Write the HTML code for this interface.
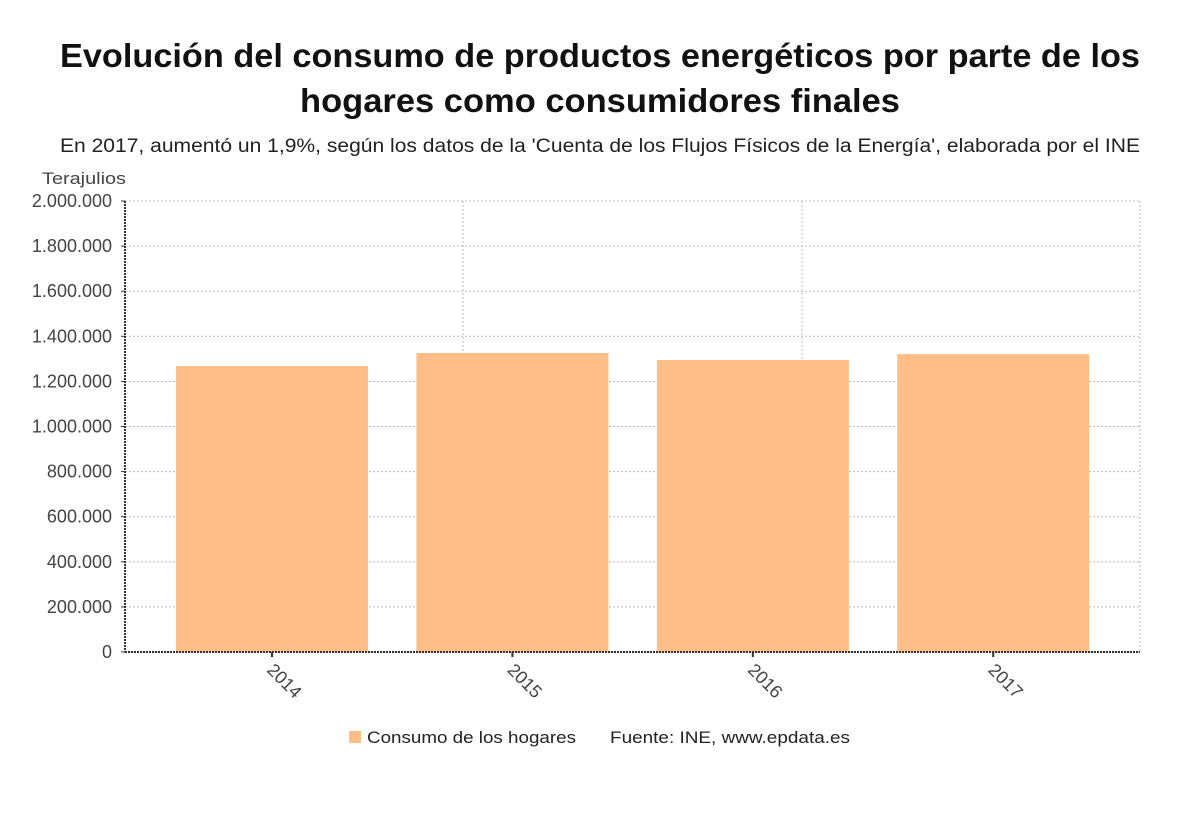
<!DOCTYPE html>
<html><head><meta charset="utf-8"><style>
body{margin:0;background:#fff;width:1200px;height:809px;overflow:hidden;font-family:"Liberation Sans","DejaVu Sans",sans-serif}
</style></head><body>
<svg id="chart" width="1200" height="809" xmlns="http://www.w3.org/2000/svg" font-family="Liberation Sans, DejaVu Sans, sans-serif">
<text x="600" y="67" text-anchor="middle" font-size="33" font-weight="bold" fill="#111" textLength="1080" lengthAdjust="spacingAndGlyphs">Evolución del consumo de productos energéticos por parte de los</text>
<text x="600" y="112" text-anchor="middle" font-size="33" font-weight="bold" fill="#111" textLength="600" lengthAdjust="spacingAndGlyphs">hogares como consumidores finales</text>
<text x="600" y="152" text-anchor="middle" font-size="19" fill="#222" textLength="1080" lengthAdjust="spacingAndGlyphs">En 2017, aumentó un 1,9%, según los datos de la 'Cuenta de los Flujos Físicos de la Energía', elaborada por el INE</text>
<text x="42" y="184" font-size="17" fill="#444" textLength="84" lengthAdjust="spacingAndGlyphs">Terajulios</text>
<g id="grid"></g><g id="bars"></g><g id="axes"></g>
<rect x="349" y="731" width="12" height="12" fill="#ffbe87"/>
<text x="367" y="743" font-size="17" fill="#222" textLength="209" lengthAdjust="spacingAndGlyphs">Consumo de los hogares</text>
<text x="610" y="743" font-size="17" fill="#222" textLength="240" lengthAdjust="spacingAndGlyphs">Fuente: INE, www.epdata.es</text>
</svg>
<script>
const categories = ["2014","2015","2016","2017"];
const values = [1268000, 1326000, 1295000, 1321000];
const yTicks = [0,200000,400000,600000,800000,1000000,1200000,1400000,1600000,1800000,2000000];
const yTickLabels = ["0","200.000","400.000","600.000","800.000","1.000.000","1.200.000","1.400.000","1.600.000","1.800.000","2.000.000"];
const NS="http://www.w3.org/2000/svg";
const L=125,R=1140,T=201,B=652;
const y=v=>B-(v/2000000)*(B-T);
const x=i=>272+i*240.4;
const bw=192;
function mk(tag,attrs,parent,txt){const e=document.createElementNS(NS,tag);for(const k in attrs)e.setAttribute(k,attrs[k]);if(txt!==undefined)e.textContent=txt;document.getElementById(parent).appendChild(e);return e;}
yTicks.forEach((t,i)=>{
  const g=mk('line',{x1:L,x2:R,y1:y(t),y2:y(t),stroke:'#bbb','stroke-dasharray':'2,2'},'grid');
  
  
  const tk=mk('line',{x1:L-4,x2:L,y1:y(t),y2:y(t),stroke:'#333'},'axes');
  
  
  const lb=mk('text',{x:L-13,y:y(t)+6,'text-anchor':'end','font-size':18,fill:'#444'},'axes',yTickLabels[i]);
  
  
});
[463,802,R].forEach(gx=>{
  const v=mk('line',{x1:gx,x2:gx,y1:T,y2:B,stroke:'#bbb','stroke-dasharray':'2,2'},'grid');
  
  
});
values.forEach((v,i)=>{
  const r=mk('rect',{x:x(i)-bw/2,y:y(v),width:bw,height:B-y(v),fill:'#ffbe87'},'bars');
  
  
  const tk=mk('line',{x1:x(i),x2:x(i),y1:B,y2:B+5,stroke:'#333','stroke-width':2},'axes');
  
  
  const lb=mk('text',{x:x(i)-6,y:B+19,'font-size':18,fill:'#444',transform:`rotate(45 ${x(i)-6} ${B+19})`},'axes',categories[i]);
  
  
});
const ya=mk('line',{x1:L,x2:L,y1:T,y2:B,stroke:'#333','stroke-width':2,'stroke-dasharray':'2,1'},'axes');


const xa=mk('line',{x1:L,x2:R,y1:B,y2:B,stroke:'#333','stroke-width':2,'stroke-dasharray':'2,1'},'axes');


</script>
</body></html>
